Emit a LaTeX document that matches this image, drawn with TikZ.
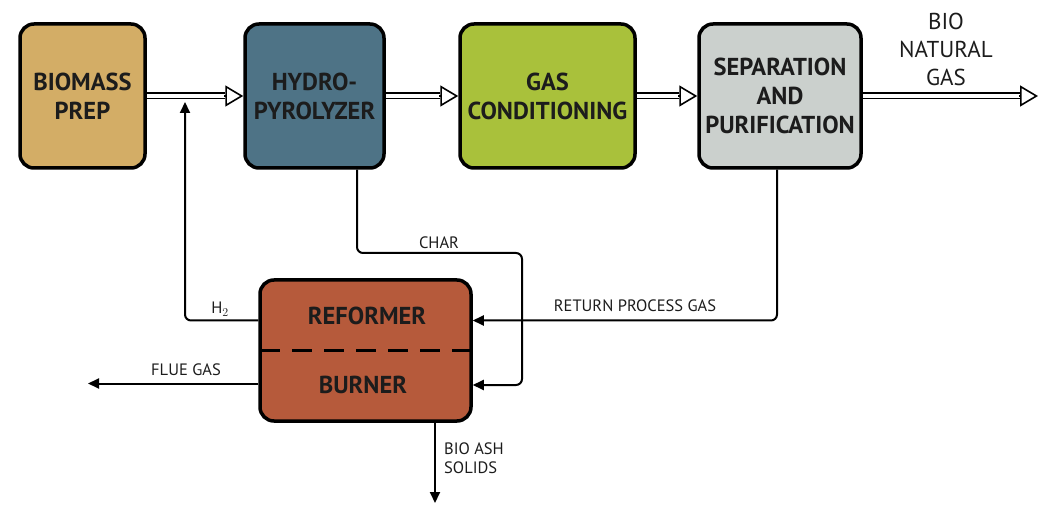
\documentclass[tikz,border=0pt]{standalone}
\usepackage{fontspec}
\setmainfont{PT Sans}
\usetikzlibrary{arrows.meta,calc}
\definecolor{cBio}{HTML}{D3AD66}
\definecolor{cHyd}{HTML}{4E7386}
\definecolor{cGas}{HTML}{A9C13B}
\definecolor{cSep}{HTML}{CBD0CD}
\definecolor{cRef}{HTML}{B65A3B}
\definecolor{cTxt}{HTML}{1C1C1C}
\begin{document}
\begin{tikzpicture}[x=1pt,y=-1pt,
 box/.style={draw=black, line width=3.5pt, rounded corners=14pt, inner sep=0pt, text=cTxt,
   font=\fontsize{24.5}{29}\selectfont\bfseries, align=center},
 boxtext/.style={inner sep=0pt, text=cTxt, font=\fontsize{24.5}{29}\selectfont\bfseries},
 lab/.style={inner sep=0pt, text=cTxt, font=\fontsize{16.5}{19}\selectfont, align=left},
 pipe/.style={draw=black, line width=1.5pt, double=white, double distance=4pt, shorten >=18pt},
 phead/.style={line width=1.6pt, -{Triangle[open, length=18pt, width=21pt]}},
 flow/.style={line width=2pt, rounded corners=6pt, -{Triangle[length=11pt, width=10pt]}}]
\useasboundingbox (0,0) rectangle (1053,505);

% process boxes
\node[box, fill=cBio, minimum width=125pt, minimum height=144pt] (bp) at (82.5,96) {BIOMASS\\PREP};
\node[box, fill=cHyd, minimum width=139pt, minimum height=144pt] (hp) at (314.5,96) {HYDRO-\\PYROLYZER};
\node[box, fill=cGas, minimum width=175pt, minimum height=144pt] (gc) at (547.5,96) {GAS\\CONDITIONING};
\node[box, fill=cSep, minimum width=162pt, minimum height=144pt] (sp) at (780,96) {SEPARATION\\AND\\PURIFICATION};
\node[box, fill=cRef, minimum width=211pt, minimum height=141pt] (ref) at (365.5,350.5) {};
\draw[line width=3pt, dash pattern=on 20pt off 12pt] ([xshift=2pt]ref.west) -- ([xshift=-2pt]ref.east);
\node[boxtext] (reft) at (367,316) {REFORMER};
\node[boxtext] (burt) at (363,385) {BURNER};

% free ends
\coordinate (bng) at (1038,96);
\coordinate (h2end) at (185,102);
\coordinate (charturn) at (522,253);
\coordinate (flue) at (88,383.5);
\coordinate (ash) at (435,503);

% main gas line (hollow pipes)
\draw[pipe] (bp.east) -- (hp.west);
\draw[phead] ([xshift=-19pt]hp.west) -- (hp.west);
\draw[pipe] (hp.east) -- (gc.west);
\draw[phead] ([xshift=-19pt]gc.west) -- (gc.west);
\draw[pipe] (gc.east) -- (sp.west);
\draw[phead] ([xshift=-19pt]sp.west) -- (sp.west);
\draw[pipe] (sp.east) -- (bng);
\draw[phead] ([xshift=-19pt]bng) -- (bng);

% side streams
\draw[flow] ($(ref.west)+(0,-30)$) -| (h2end);
\draw[flow] ($(hp.south)+(42.5,0)$) |- (charturn) |- ($(ref.east)+(0,34.5)$);
\draw[flow] ($(sp.south)+(-3,0)$) |- ($(ref.east)+(0,-30)$);
\draw[flow] ($(ref.west)+(0,33)$) -- (flue);
\draw[flow] ($(ref.south)+(69.5,0)$) -- (ash);

% labels
\node[inner sep=0pt, text=cTxt, font=\fontsize{23}{28}\selectfont, align=center] (bnglab) at (946,49) {BIO\\NATURAL\\GAS};
\node[lab] (charlab) at (439,243) {CHAR};
\node[lab] (h2lab) at (220,309) {H$_2$};
\node[lab] (retlab) at (635,306) {RETURN PROCESS GAS};
\node[lab] (fluelab) at (186,370) {FLUE GAS};
\node[lab, anchor=west] (ashlab) at (444,458) {BIO ASH\\SOLIDS};
\end{tikzpicture}
\end{document}
